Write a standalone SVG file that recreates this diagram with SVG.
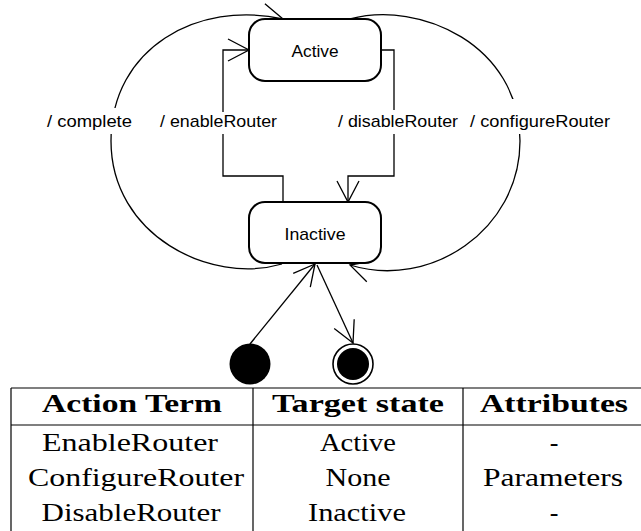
<svg xmlns="http://www.w3.org/2000/svg" width="641" height="531" viewBox="0 0 641 531">
<defs>
<style>
.state{fill:#fff;stroke:#000;stroke-width:2}
.st{font-family:"Liberation Sans",Arial,sans-serif;font-size:17px;fill:#000;text-anchor:middle}
.conn{fill:none;stroke:#000;stroke-width:1.3;marker-end:url(#arr)}
.lblbg{fill:#fff;stroke:none}
.tl{stroke:#000;stroke-width:1.2;fill:none}
.th{font-family:"Liberation Serif","Times New Roman",serif;font-size:26px;font-weight:bold;text-anchor:middle;fill:#000}
.td{font-family:"Liberation Serif","Times New Roman",serif;font-size:26px;text-anchor:middle;fill:#000}
</style>
<marker id="arr" viewBox="-25 -15 30 30" refX="0" refY="0" markerWidth="30" markerHeight="30" markerUnits="userSpaceOnUse" orient="auto">
<path d="M-21,-11 L0,0 L-21,11" fill="none" stroke="#000" stroke-width="1.3"/>
</marker>
</defs>
<rect width="641" height="531" fill="#fff"/>

<g id="connectors">
<path id="e-complete" class="conn" d="M282,264 C210,285 111,235 111,141 C111,48 198,0 283,19"/>
<path id="e-configure" class="conn" d="M350,19 C420,0 520,45 520,141 C520,230 430,290 350,265"/>
<path id="e-enable" class="conn" d="M283,202 L283,176 L223,176 L223,50 L249,50"/>
<path id="e-disable" class="conn" d="M381,50 L394,50 L394,176 L348,176 L348,202"/>
<path id="e-init" class="conn" d="M250,344 L315,264"/>
<path id="e-final" class="conn" d="M317,265 L353,343"/>
</g>

<g id="label-complete">
<rect class="lblbg" x="45" y="108" width="89" height="26"/>
<text class="st" x="89.5" y="127" textLength="85" lengthAdjust="spacingAndGlyphs">/ complete</text>
</g>
<g id="label-enable">
<rect class="lblbg" x="158" y="112" width="121" height="22"/>
<text class="st" x="218.5" y="127" textLength="117" lengthAdjust="spacingAndGlyphs">/ enableRouter</text>
</g>
<g id="label-disable">
<rect class="lblbg" x="336" y="110" width="124" height="24"/>
<text class="st" x="398" y="127" textLength="120" lengthAdjust="spacingAndGlyphs">/ disableRouter</text>
</g>
<g id="label-configure">
<rect class="lblbg" x="468" y="99" width="144" height="35"/>
<text class="st" x="540" y="127" textLength="140" lengthAdjust="spacingAndGlyphs">/ configureRouter</text>
</g>

<g id="active">
<rect class="state" x="249" y="19" width="132" height="62" rx="16" ry="16"/>
<text class="st" x="315" y="57" textLength="47" lengthAdjust="spacingAndGlyphs">Active</text>
</g>
<g id="inactive">
<rect class="state" x="249" y="202" width="132" height="61" rx="16" ry="16"/>
<text class="st" x="315" y="240" textLength="61" lengthAdjust="spacingAndGlyphs">Inactive</text>
</g>
<g id="initial">
<circle cx="250" cy="364" r="20.5" fill="#000"/>
</g>
<g id="final">
<circle cx="353" cy="364" r="20" fill="#fff" stroke="#000" stroke-width="1.6"/>
<circle cx="353" cy="364" r="16" fill="#000"/>
</g>

<g id="table">
<line class="tl" x1="11" y1="388" x2="641" y2="388"/>
<line class="tl" x1="11" y1="425" x2="641" y2="425"/>
<line class="tl" x1="11" y1="388" x2="11" y2="531"/>
<line class="tl" x1="253" y1="388" x2="253" y2="531"/>
<line class="tl" x1="463" y1="388" x2="463" y2="531"/>
<text class="th" x="132" y="412" textLength="180" lengthAdjust="spacingAndGlyphs">Action Term</text>
<text class="th" x="358" y="412" textLength="172" lengthAdjust="spacingAndGlyphs">Target state</text>
<text class="th" x="554" y="412" textLength="148" lengthAdjust="spacingAndGlyphs">Attributes</text>
<text class="td" x="130" y="451" textLength="176" lengthAdjust="spacingAndGlyphs">EnableRouter</text>
<text class="td" x="358" y="451" textLength="76" lengthAdjust="spacingAndGlyphs">Active</text>
<text class="td" x="554" y="451">-</text>
<text class="td" x="136" y="486" textLength="216" lengthAdjust="spacingAndGlyphs">ConfigureRouter</text>
<text class="td" x="358" y="486" textLength="65" lengthAdjust="spacingAndGlyphs">None</text>
<text class="td" x="553" y="486" textLength="140" lengthAdjust="spacingAndGlyphs">Parameters</text>
<text class="td" x="131" y="521" textLength="179" lengthAdjust="spacingAndGlyphs">DisableRouter</text>
<text class="td" x="357" y="521" textLength="98" lengthAdjust="spacingAndGlyphs">Inactive</text>
<text class="td" x="554" y="521">-</text>
</g>
</svg>
